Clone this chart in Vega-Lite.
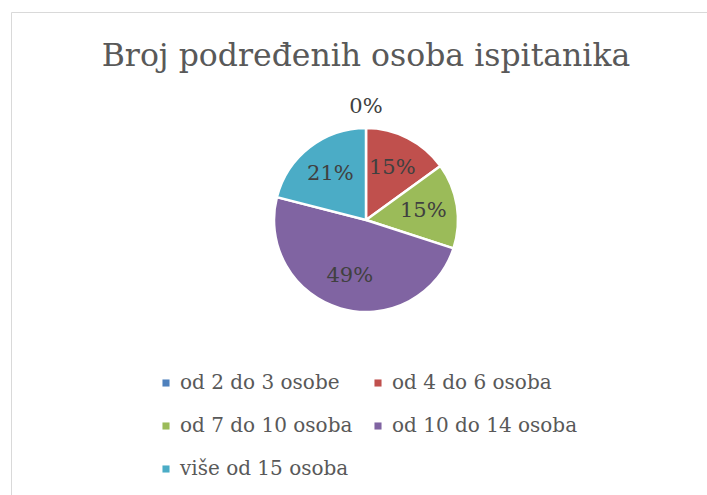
{
  "$schema": "https://vega.github.io/schema/vega-lite/v6.json",
  "width": 710,
  "height": 500,
  "autosize": {"type": "none"},
  "padding": {"left": 11, "top": 12, "right": 0, "bottom": 0},
  "background": "white",
  "view": {"stroke": "#d9d9d9", "strokeWidth": 1},
  "title": {
    "text": "Broj podređenih osoba ispitanika",
    "font": "DejaVu Serif",
    "fontSize": 31.5,
    "fontWeight": "normal",
    "color": "#595959",
    "anchor": "middle",
    "orient": "top",
    "offset": -60
  },
  "data": {
    "values": [
      {"kategorija": "od 2 do 3 osobe", "udio": 0, "oznaka": "0%", "redoslijed": 1},
      {"kategorija": "od 4 do 6 osoba", "udio": 15, "oznaka": "15%", "redoslijed": 2},
      {"kategorija": "od 7 do 10 osoba", "udio": 15, "oznaka": "15%", "redoslijed": 3},
      {"kategorija": "od 10 do 14 osoba", "udio": 49, "oznaka": "49%", "redoslijed": 4},
      {"kategorija": "više od 15 osoba", "udio": 21, "oznaka": "21%", "redoslijed": 5}
    ]
  },
  "encoding": {
    "theta": {"field": "udio", "type": "quantitative", "stack": true},
    "order": {"field": "redoslijed", "type": "quantitative"}
  },
  "layer": [
    {
      "mark": {"type": "arc", "outerRadius": 92, "stroke": "white", "strokeWidth": 2.5, "yOffset": -42},
      "encoding": {
        "color": {
          "field": "kategorija",
          "type": "nominal",
          "scale": {
            "domain": ["od 2 do 3 osobe", "od 4 do 6 osoba", "od 7 do 10 osoba", "od 10 do 14 osoba", "više od 15 osoba"],
            "range": ["#4F81BD", "#C0504D", "#9BBB59", "#8064A2", "#4BACC6"]
          },
          "legend": {
            "orient": "none",
            "legendX": 145,
            "legendY": 361,
            "columns": 2,
            "direction": "horizontal",
            "title": null,
            "padding": 0,
            "symbolType": "square",
            "symbolSize": 50,
            "symbolStrokeWidth": 0,
            "labelFont": "DejaVu Serif",
            "labelFontSize": 20,
            "labelColor": "#595959",
            "labelOffset": 4,
            "labelLimit": 300,
            "rowPadding": 23,
            "columnPadding": 15
          }
        }
      }
    },
    {
      "transform": [{"filter": "datum.udio > 0"}],
      "mark": {"type": "text", "font": "DejaVu Serif", "fontSize": 21, "color": "#404040", "yOffset": -42, "radius": 58},
      "encoding": {
        "text": {"field": "oznaka", "type": "nominal"}
      }
    },
    {
      "transform": [{"filter": "datum.udio == 0"}],
      "mark": {"type": "text", "font": "DejaVu Serif", "fontSize": 21, "color": "#404040", "yOffset": -42, "radius": 113},
      "encoding": {
        "text": {"field": "oznaka", "type": "nominal"}
      }
    }
  ]
}
